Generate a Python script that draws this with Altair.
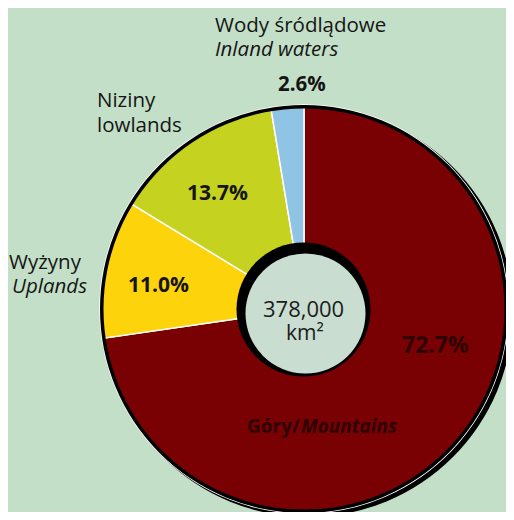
import altair as alt
import pandas as pd

# ---- data ----
categories = ["Góry/Mountains", "Wyżyny/Uplands", "Niziny/Lowlands", "Wody śródlądowe/Inland waters"]
shares = [72.7, 11.0, 13.7, 2.6]
order = [0, 1, 2, 3]
colors = ["#7a0103", "#fdd30c", "#c5d21f", "#8fc4e4"]

label_texts = ["Wody śródlądowe", "Inland waters", "2.6%", "Niziny", "lowlands",
               "13.7%", "Wyżyny", "Uplands", "11.0%", "378,000", "km²", "72.7%",
               "Góry/", "Mountains"]

# ---- layout (reference pixel positions, chart offset by page margin) ----
OFF = 8
CX, CY, R_OUT, R_IN = 304 - OFF, 309 - OFF, 204, 60
BG = "#c4dfc8"

# x, y(baseline), size, weight, style, color
label_layout = [
    (215, 32, 20.5, "normal", "normal", "#151515"),
    (215, 56, 20.5, "normal", "italic", "#151515"),
    (278, 91, 20.5, "bold", "normal", "#151515"),
    (97, 107, 20.5, "normal", "normal", "#151515"),
    (97, 132, 20.5, "normal", "normal", "#151515"),
    (187, 200, 21, "bold", "normal", "#151515"),
    (9, 269, 20.5, "normal", "normal", "#151515"),
    (12, 293, 20.5, "normal", "italic", "#151515"),
    (128, 292, 21, "bold", "normal", "#151515"),
    (263, 317, 22, "normal", "normal", "#1c1c1c"),
    (286, 340, 21, "normal", "normal", "#1c1c1c"),
    (402, 353, 23, "bold", "normal", "#2e0202"),
    (247, 433, 19, "bold", "normal", "#2e0202"),
    (301, 433, 19, "bold", "italic", "#2e0202"),
]

df = pd.DataFrame({"cat": categories, "pct": shares, "idx": order})
one = alt.Data(values=[{"a": 1}])


def disc(cx, cy, r, fill):
    return alt.Chart(one).mark_arc(
        theta=0, theta2=6.2832, radius=r, radius2=0, fill=fill, stroke=None
    ).encode(x=alt.value(cx), y=alt.value(cy))


shadow = disc(CX + 4, CY + 3, 205, "#000000")

slices = alt.Chart(df).mark_arc(
    radius=R_OUT, radius2=R_IN, stroke="white", strokeWidth=1.5
).encode(
    theta=alt.Theta("pct:Q", stack=True),
    order=alt.Order("idx:Q"),
    color=alt.Color("cat:N", scale=alt.Scale(domain=categories, range=colors), legend=None),
    x=alt.value(CX),
    y=alt.value(CY),
)

ring = alt.Chart(one).mark_arc(
    theta=0, theta2=6.2832, radius=R_OUT, radius2=R_OUT - 3.5, fill="#000000", stroke=None
).encode(x=alt.value(CX), y=alt.value(CY))

inner_black = disc(303.5 - OFF, 309.5 - OFF, 67, "#000000")
inner_fill = disc(305.5 - OFF, 313.5 - OFF, 60, "#c9ded1")

layers = [shadow, slices, ring, inner_black, inner_fill]

for txt, (x, y, size, weight, style, col) in zip(label_texts, label_layout):
    layers.append(
        alt.Chart(one).mark_text(
            text=txt, align="left", baseline="alphabetic", font="Open Sans",
            fontSize=size, fontWeight=weight, fontStyle=style, color=col
        ).encode(x=alt.value(x - OFF), y=alt.value(y - OFF))
    )

chart = alt.layer(*layers).properties(
    width=498, height=504, autosize=alt.AutoSizeParams(type="none"), padding=0,
    background=BG
).configure_view(stroke=None)

chart.save("out.html", embed_options={"renderer": "svg", "actions": False})
